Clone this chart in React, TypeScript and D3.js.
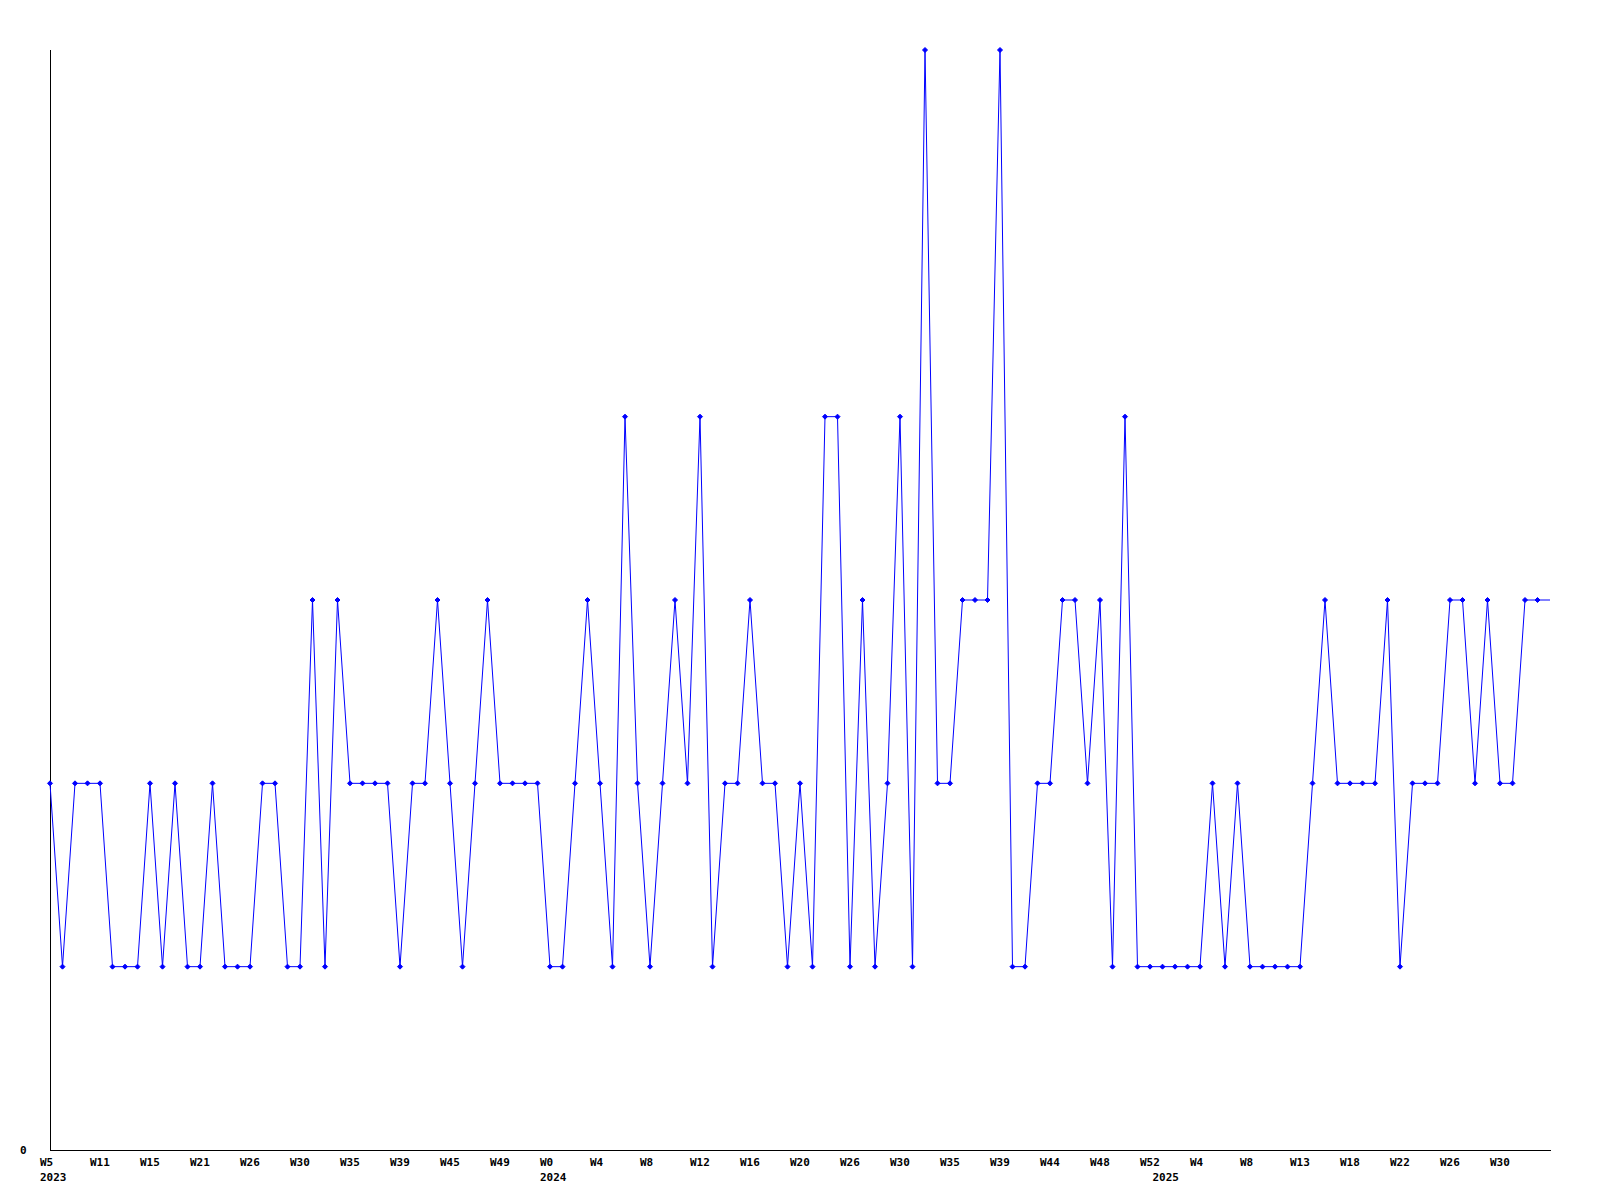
import React from "react";
import * as d3 from "d3";

// weekly counts (last value is the open, unmarked end of the line)
const values: number[] = [
  2, 1, 2, 2, 2, 1, 1, 1, 2, 1, 2, 1, 1, 2, 1, 1, 1, 2, 2, 1,
  1, 3, 1, 3, 2, 2, 2, 2, 1, 2, 2, 3, 2, 1, 2, 3, 2, 2, 2, 2,
  1, 1, 2, 3, 2, 1, 4, 2, 1, 2, 3, 2, 4, 1, 2, 2, 3, 2, 2, 1,
  2, 1, 4, 4, 1, 3, 1, 2, 4, 1, 6, 2, 2, 3, 3, 3, 6, 1, 1, 2,
  2, 3, 3, 2, 3, 1, 4, 1, 1, 1, 1, 1, 1, 2, 1, 2, 1, 1, 1, 1,
  1, 2, 3, 2, 2, 2, 2, 3, 1, 2, 2, 2, 3, 3, 2, 3, 2, 2, 3, 3,
  3,
];
const markedCount = 120;

const tickEvery = 4;
const tickLabels: string[] = [
  "W5", "W11", "W15", "W21", "W26", "W30", "W35", "W39", "W45", "W49",
  "W0", "W4", "W8", "W12", "W16", "W20", "W26", "W30", "W35", "W39",
  "W44", "W48", "W52", "W4", "W8", "W13", "W18", "W22", "W26", "W30",
];
const yearLabels: string[] = ["2023", "2024", "2025"];
const yearIndex: number[] = [0, 40, 89];

const yTickValues: number[] = [0];

const W = 1600;
const H = 1200;
const left = 50;
const right = 1550;
const top = 50;
const bottom = 1150;
const font = "'DejaVu Sans Mono', 'Liberation Mono', monospace";

export default function App() {
  const x = d3.scaleLinear().domain([0, values.length - 1]).range([left, right]);
  const y = d3.scaleLinear().domain([0, 6]).range([bottom, top]);
  const line = d3
    .line<number>()
    .x((_, i) => x(i))
    .y((d) => y(d));
  const marker = "M0,-2.5L2.5,0L0,2.5L-2.5,0Z";

  return (
    <svg
      width={W}
      height={H}
      style={{ position: "absolute", left: 0, top: 0, background: "#fff" }}
    >
      <rect x={0} y={0} width={W} height={H} fill="#fff" />
      {/* axes */}
      <line x1={left + 0.5} x2={left + 0.5} y1={top} y2={bottom} stroke="#000" strokeWidth={1} />
      <line x1={left} x2={right + 1} y1={bottom + 0.5} y2={bottom + 0.5} stroke="#000" strokeWidth={1} />

      {yTickValues.map((v) => (
        <text
          key={"y" + v}
          x={left - 30}
          y={y(v) + 4}
          fontFamily={font}
          fontWeight="bold"
          fontSize={11}
          fill="#000"
        >
          {v}
        </text>
      ))}

      {tickLabels.map((t, k) => (
        <text
          key={"t" + k}
          x={x(k * tickEvery) - 10}
          y={bottom + 16}
          fontFamily={font}
          fontWeight="bold"
          fontSize={11}
          fill="#000"
        >
          {t}
        </text>
      ))}
      {yearLabels.map((t, k) => (
        <text
          key={"yr" + k}
          x={x(yearIndex[k]) - 10}
          y={bottom + 31}
          fontFamily={font}
          fontWeight="bold"
          fontSize={11}
          fill="#000"
        >
          {t}
        </text>
      ))}

      <path d={line(values) || ""} fill="none" stroke="#0000ff" strokeWidth={1} />
      {values.slice(0, markedCount).map((v, i) => (
        <path
          key={"m" + i}
          d={marker}
          transform={`translate(${x(i)},${y(v)})`}
          fill="#0000ff"
          stroke="#0000ff"
          strokeWidth={1}
        />
      ))}
    </svg>
  );
}
